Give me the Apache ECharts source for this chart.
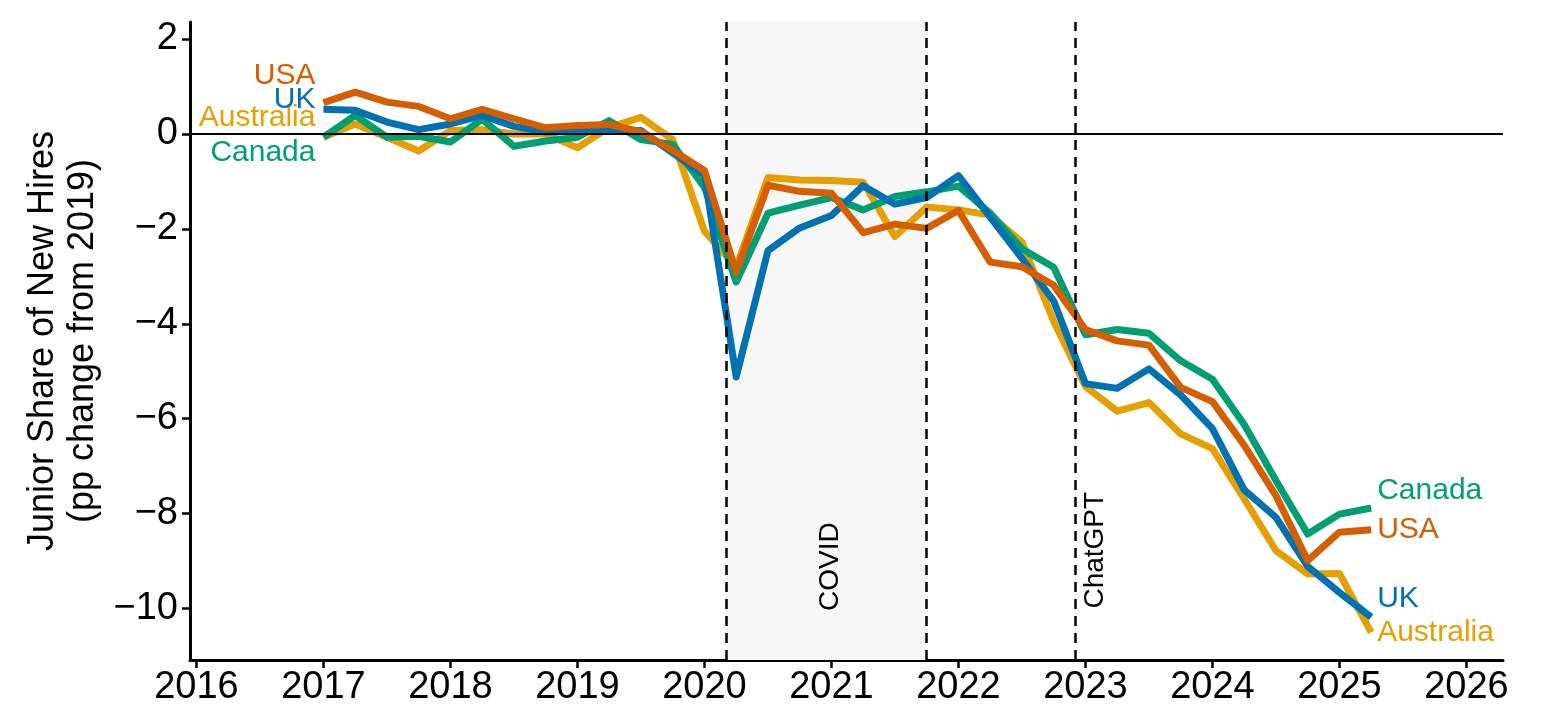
<!DOCTYPE html>
<html lang="en">
<head>
<meta charset="utf-8">
<title>Junior Share of New Hires</title>
<script src="https://cdn.jsdelivr.net/npm/echarts@6.0.0/dist/echarts.min.js"></script>
<style>html,body{margin:0;padding:0;background:#fff}</style>
</head>
<body>
<div id="main" style="width:1560px;height:720px;"></div>
<script type="text/javascript">
    // quarterly observations (decimal year)
    var quarters = [2017.00, 2017.25, 2017.50, 2017.75, 2018.00, 2018.25, 2018.50, 2018.75,
        2019.00, 2019.25, 2019.50, 2019.75, 2020.00, 2020.25, 2020.50, 2020.75,
        2021.00, 2021.25, 2021.50, 2021.75, 2022.00, 2022.25, 2022.50, 2022.75,
        2023.00, 2023.25, 2023.50, 2023.75, 2024.00, 2024.25, 2024.50, 2024.75,
        2025.00, 2025.25];

    // pp change from 2019
    var usa = [0.66, 0.88, 0.67, 0.58, 0.32, 0.52, 0.32, 0.13,
        0.18, 0.20, 0.04, -0.35, -0.77, -2.91, -1.08, -1.21,
        -1.25, -2.08, -1.90, -1.99, -1.61, -2.70, -2.80, -3.19,
        -4.12, -4.36, -4.45, -5.34, -5.64, -6.56, -7.62, -8.99,
        -8.39, -8.34];
    var uk = [0.52, 0.50, 0.25, 0.09, 0.21, 0.39, 0.16, 0.04,
        0.06, 0.08, 0.07, -0.40, -0.87, -5.12, -2.46, -1.98,
        -1.72, -1.09, -1.48, -1.34, -0.88, -1.75, -2.62, -3.52,
        -5.26, -5.36, -4.95, -5.50, -6.21, -7.50, -8.08, -9.11,
        -9.66, -10.18];
    var australia = [-0.07, 0.21, -0.07, -0.36, 0.07, 0.09, 0.00, 0.00,
        -0.29, 0.14, 0.35, -0.12, -2.05, -2.81, -0.92, -0.97,
        -0.98, -1.02, -2.16, -1.54, -1.60, -1.71, -2.28, -3.95,
        -5.32, -5.84, -5.66, -6.32, -6.63, -7.69, -8.78, -9.27,
        -9.26, -10.50];
    var canada = [-0.07, 0.39, -0.07, -0.05, -0.17, 0.31, -0.26, -0.15,
        -0.07, 0.28, -0.12, -0.22, -1.12, -3.12, -1.67, -1.50,
        -1.34, -1.60, -1.32, -1.22, -1.10, -1.67, -2.42, -2.81,
        -4.23, -4.12, -4.20, -4.78, -5.17, -6.12, -7.30, -8.43,
        -8.01, -7.88];

    var xTicks = [2016, 2017, 2018, 2019, 2020, 2021, 2022, 2023, 2024, 2025, 2026];
    var yTicks = [-10, -8, -6, -4, -2, 0, 2];

    // events
    var covidStart = 2020.167, covidEnd = 2021.75;
    var chatgptDate = 2022.917;

    var FONT = '"Liberation Sans", Arial, Helvetica, sans-serif';

    function pairs(vals) {
        return quarters.map(function (q, i) { return [q, vals[i]]; });
    }
    function minus(v) {
        return String(v).replace('-', '\u2212');
    }

    // name, values, colour, dy of left label, dy of right label
    function country(name, vals, color, leftDy, rightDy) {
        var last = vals.length - 1;
        return {
            name: name,
            type: 'line',
            z: 3,
            data: pairs(vals),
            showSymbol: false,
            symbol: 'none',
            lineStyle: { color: color, width: 7, join: 'round', cap: 'butt' },
            itemStyle: { color: color },
            markPoint: {
                silent: true,
                symbol: 'circle',
                symbolSize: 0,
                label: {
                    show: true, formatter: name, color: color,
                    fontSize: 30, fontFamily: FONT
                },
                data: [
                    { coord: [quarters[0], vals[0]],
                      label: { position: 'left', distance: 8, offset: [0, leftDy] } },
                    { coord: [quarters[last], vals[last]],
                      label: { position: 'right', distance: 6, offset: [0, rightDy] } }
                ]
            }
        };
    }

    var myChart = echarts.init(document.getElementById('main'));
    var option = {
        animation: false,
        backgroundColor: '#fff',
        textStyle: { fontFamily: FONT },
        grid: { left: 190, right: 57, top: 22, bottom: 60, containLabel: false },
        xAxis: {
            type: 'value',
            min: 2015.949,
            max: 2026.288,
            splitLine: { show: false },
            axisLine: { onZero: false, lineStyle: { color: '#000', width: 3 } },
            axisTick: { customValues: xTicks, length: 8, lineStyle: { color: '#000', width: 2.5 } },
            axisLabel: {
                customValues: xTicks, color: '#000', fontSize: 38, fontFamily: FONT, margin: 9,
                formatter: function (v) { return String(v); }
            }
        },
        yAxis: {
            type: 'value',
            min: -11.083,
            max: 2.358,
            splitLine: { show: false },
            axisLine: { show: true, onZero: false, lineStyle: { color: '#000', width: 3 } },
            axisTick: { show: true, customValues: yTicks, length: 8, lineStyle: { color: '#000', width: 2.5 } },
            axisLabel: {
                customValues: yTicks, color: '#000', fontSize: 38, fontFamily: FONT, margin: 12,
                formatter: minus
            },
            name: 'Junior Share of New Hires\n(pp change from 2019)',
            nameLocation: 'middle',
            nameRotate: 90,
            nameGap: 85,
            nameTextStyle: { color: '#000', fontSize: 36, fontFamily: FONT, lineHeight: 40 }
        },
        series: [
            {
                // background annotations
                name: 'events',
                type: 'line',
                z: 1,
                data: [],
                markArea: {
                    silent: true,
                    itemStyle: { color: '#f7f7f7' },
                    data: [[{ xAxis: covidStart }, { xAxis: covidEnd }]]
                },
                markLine: {
                    silent: true,
                    symbol: 'none',
                    label: { show: false },
                    data: [
                        { yAxis: 0, lineStyle: { color: '#000', width: 1.8, type: 'solid' } },
                        { xAxis: covidStart, lineStyle: { color: '#000', width: 2.5, type: [10, 7] } },
                        { xAxis: covidEnd, lineStyle: { color: '#000', width: 2.5, type: [10, 7] } },
                        { xAxis: chatgptDate, lineStyle: { color: '#000', width: 2.5, type: [10, 7] } }
                    ]
                },
                markPoint: {
                    silent: true,
                    symbol: 'circle',
                    symbolSize: 0,
                    label: {
                        show: true, color: '#000', fontSize: 28, fontFamily: FONT,
                        position: 'inside', rotate: 90, align: 'left', verticalAlign: 'middle'
                    },
                    data: [
                        { coord: [(covidStart + covidEnd) / 2, -10.05], label: { formatter: 'COVID', offset: [0, 4] } },
                        { coord: [chatgptDate, -10.0], label: { formatter: 'ChatGPT', offset: [0, 20] } }
                    ]
                }
            },
            country('Australia', australia, '#E69F00', -20, 0),
            country('Canada', canada, '#009E73', 15, -17),
            country('UK', uk, '#0072B2', -10, -18),
            country('USA', usa, '#D55E00', -27, 0)
        ]
    };
    myChart.setOption(option);
</script>
</body>
</html>
